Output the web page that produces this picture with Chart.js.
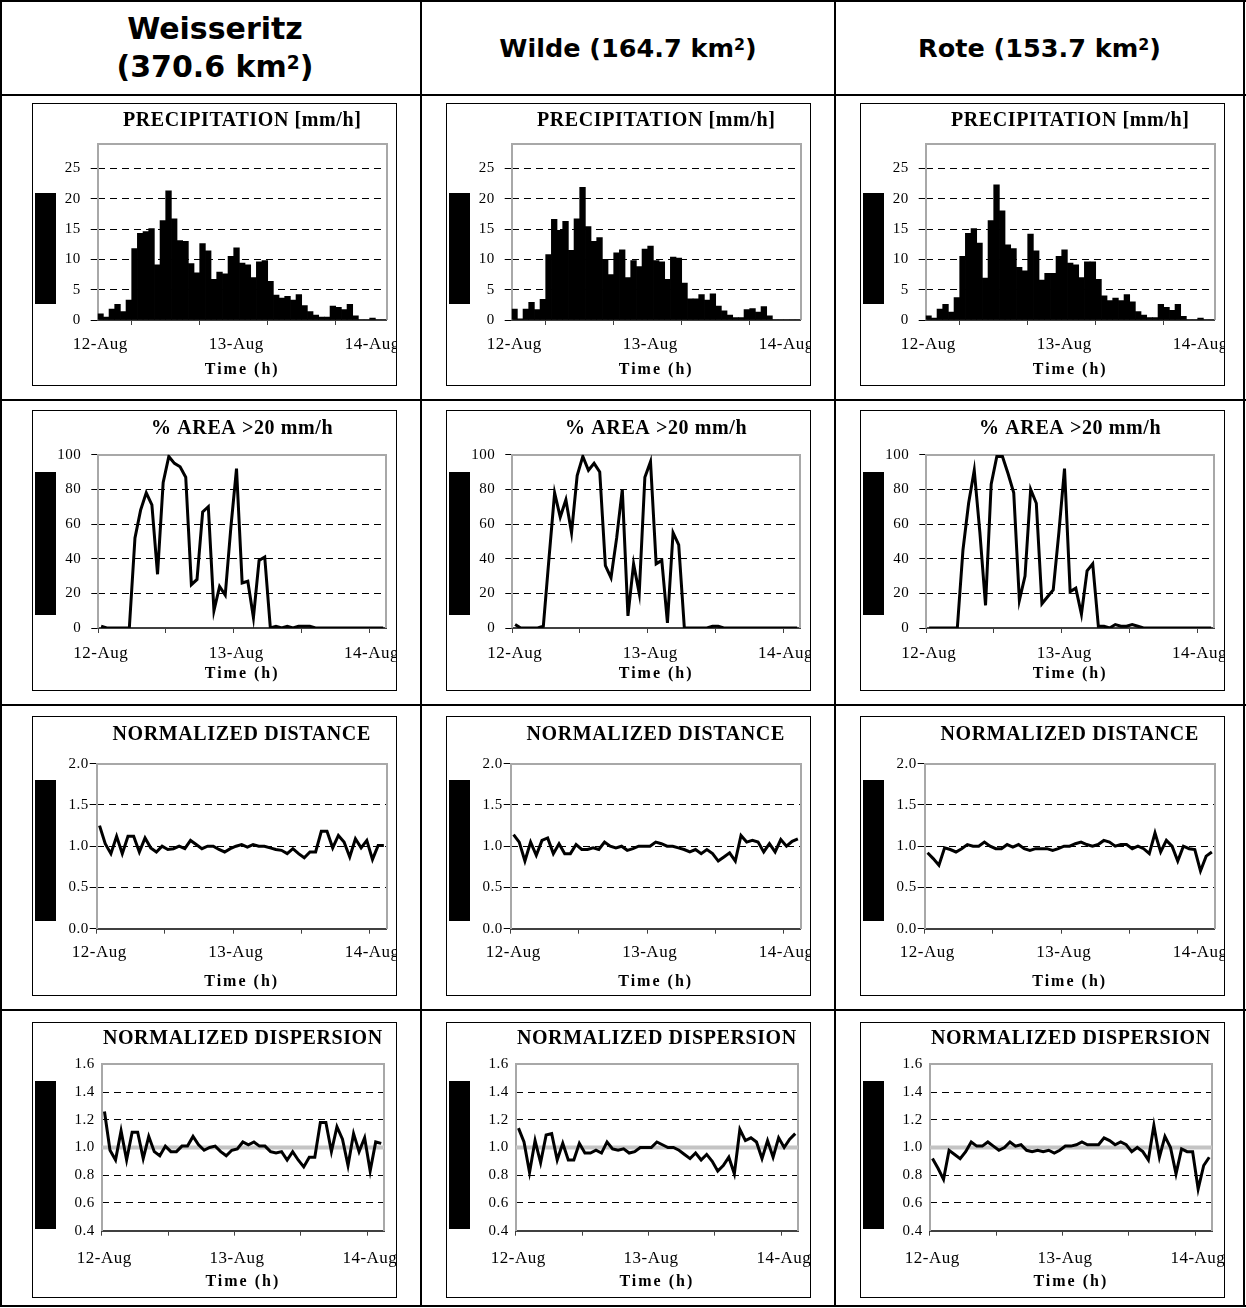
<!DOCTYPE html>
<html><head><meta charset="utf-8">
<script src="https://cdn.jsdelivr.net/npm/chart.js@4.4.1/dist/chart.umd.min.js"></script>
<style>
body{margin:0;background:#fff;}
#page{position:relative;width:1246px;height:1308px;overflow:hidden;background:#fff;}
.ln{position:absolute;background:#000;}
.hdr{position:absolute;top:2px;height:92px;display:flex;align-items:center;justify-content:center;text-align:center;
 font-family:'DejaVu Sans',Verdana,sans-serif;font-weight:bold;font-size:25.5px;line-height:38px;color:#000;}
.hdr.big{font-size:30px;}
.hdr span{display:block;}
.hdr sup{font-size:0.62em;line-height:0;vertical-align:0.45em;}
.box{position:absolute;border:1px solid #000;box-sizing:border-box;background:#fff;}
.box canvas{position:absolute;left:0;top:0;}
.blk{position:absolute;background:#000;}
</style></head>
<body><div id="page"></div>
<script>
// ---------- data ----------
const hours = [0.5,1.5,2.5,3.5,4.5,5.5,6.5,7.5,8.5,9.5,10.5,11.5,12.5,13.5,14.5,15.5,16.5,17.5,18.5,19.5,20.5,21.5,22.5,23.5,24.5,25.5,26.5,27.5,28.5,29.5,30.5,31.5,32.5,33.5,34.5,35.5,36.5,37.5,38.5,39.5,40.5,41.5,42.5,43.5,44.5,45.5,46.5,47.5,48.5,49.5,50.5];
const xTickHours = [0,12,24,36,48];
const dateTickHours = [0,24,48];
const dateLabels = ['12-Aug','13-Aug','14-Aug'];
const basinNames = ['Weisseritz','Wilde','Rote'];
const basinAreas = ['370.6','164.7','153.7'];
const panelTitles = ['PRECIPITATION [mm/h]','% AREA >20 mm/h','NORMALIZED DISTANCE','NORMALIZED DISPERSION'];
const xAxisTitle = 'Time (h)';
const precipTicks = [0,5,10,15,20,25];
const areaTicks = [0,20,40,60,80,100];
const distTicks = [0,0.5,1.0,1.5,2.0];
const dispTicks = [0.4,0.6,0.8,1.0,1.2,1.4,1.6];
const dispReference = 1.0;

const precipWeisseritz = [1.0,0.5,1.8,2.6,1.4,3.3,11.8,14.3,14.6,15.1, 9.1,16.4,21.3,16.7,13.1,13.0,9.3,7.8,12.6,11.4, 6.7,7.9,7.6,10.5,11.9,9.4,9.1,7.0,9.6,9.8, 6.4,4.1,3.6,3.9,3.3,4.2,2.4,1.4,0.8,0.5, 0.5,2.3,2.1,1.7,2.6,0.7,0,0,0.3,0, 0];
const precipWilde = [1.8,0.2,1.8,2.9,1.7,3.4,10.8,16.6,14.8,16.3, 11.5,16.7,21.9,15.4,13.0,13.6,10.0,7.5,11.1,11.6, 7.0,9.8,8.8,11.7,12.2,9.8,9.6,6.7,10.4,10.2, 6.1,3.5,3.5,4.2,3.3,4.3,2.3,1.5,0.8,0.4, 0.4,1.7,1.9,1.3,2.2,0.7,0,0,0,0, 0];
const precipRote = [0.7,0.3,1.8,2.6,1.3,3.7,10.5,14.3,15.1,12.7, 6.9,16.4,22.3,18.0,12.4,11.8,8.7,8.1,14.2,11.4, 6.6,7.7,7.7,10.5,11.6,9.4,9.1,7.0,9.6,9.6, 6.7,4.0,3.2,3.6,3.2,4.2,3.0,1.4,0.8,0.4, 0.4,2.6,2.1,1.6,2.6,0.6,0,0,0.3,0, 0];

const areaWeisseritz = [1,0,0,0,0,0,52,68,78,71, 31,84,99,95,93,87,25,28,67,70, 10,24,19,58,92,26,27,6,39,41, 0,1,0,1,0,1,1,1,0,0, 0,0,0,0,0,0,0,0,0,0, 0];
const areaWilde = [2,0,0,0,0,1,40,78,64,74, 55,88,99,91,95,90,36,29,52,80, 7,37,20,87,96,37,39,3,55,48, 0,0,0,0,0,1,1,0,0,0, 0,0,0,0,0,0,0,0,0,0, 0];
const areaRote = [0,0,0,0,0,0,45,72,91,55, 13,83,99,99,89,78,16,30,80,72, 14,18,22,55,92,21,23,8,33,37, 1,1,0,2,1,1,2,1,0,0, 0,0,0,0,0,0,0,0,0,0, 0];

const distWeisseritz = [1.25,1.03,0.91,1.12,0.91,1.12,1.12,0.93,1.10,0.98, 0.93,1.00,0.96,0.97,1.00,0.97,1.07,1.02,0.97,1.00, 1.00,0.96,0.93,0.97,1.00,1.02,0.99,1.02,1.00,1.00, 0.98,0.96,0.95,0.91,0.97,0.91,0.86,0.93,0.93,1.18, 1.18,0.98,1.13,1.05,0.87,1.09,0.98,1.07,0.84,1.01, 1.01];
const distWilde = [1.14,1.05,0.82,1.05,0.89,1.07,1.10,0.91,1.03,0.91, 0.91,1.02,0.96,0.96,0.98,0.96,1.05,1.00,0.98,1.00, 0.95,0.97,1.00,1.00,1.00,1.05,1.03,1.00,1.00,0.98, 0.96,0.93,0.96,0.91,0.96,0.91,0.82,0.87,0.92,0.82, 1.13,1.05,1.07,1.05,0.93,1.03,0.93,1.08,1.00,1.06, 1.09];
const distRote = [0.92,0.85,0.77,0.98,0.96,0.93,0.97,1.02,1.00,1.00, 1.05,1.00,0.97,0.97,1.02,0.99,1.02,0.97,0.95,0.97, 0.97,0.97,0.95,0.97,1.00,1.00,1.03,1.05,1.02,1.00, 1.02,1.07,1.05,1.00,1.02,1.02,0.97,1.00,0.97,0.91, 1.16,0.93,1.07,1.00,0.82,1.00,0.97,0.96,0.70,0.88, 0.93];

const dispWeisseritz = [1.26,0.98,0.91,1.12,0.91,1.11,1.11,0.92,1.08,0.97, 0.94,1.01,0.97,0.97,1.01,1.01,1.08,1.02,0.98,1.00, 1.01,0.97,0.94,0.98,0.99,1.04,1.02,1.04,1.01,1.01, 0.97,0.96,0.97,0.91,0.97,0.91,0.86,0.93,0.93,1.18, 1.18,0.97,1.15,1.06,0.87,1.10,0.97,1.07,0.83,1.04, 1.03];
const dispWilde = [1.14,1.04,0.82,1.05,0.89,1.09,1.10,0.91,1.03,0.91, 0.91,1.03,0.96,0.96,0.98,0.96,1.04,0.99,0.98,0.99, 0.96,0.97,1.00,1.00,1.00,1.04,1.02,1.00,1.00,0.98, 0.95,0.92,0.96,0.91,0.95,0.90,0.83,0.87,0.93,0.81, 1.13,1.05,1.07,1.04,0.92,1.05,0.93,1.07,1.00,1.06, 1.10];
const dispRote = [0.92,0.85,0.77,0.98,0.95,0.92,0.97,1.04,1.01,1.01, 1.04,1.01,0.98,1.00,1.04,1.01,1.02,0.98,0.97,0.98, 0.97,0.98,0.96,0.98,1.01,1.01,1.02,1.04,1.02,1.02, 1.02,1.07,1.05,1.02,1.04,1.02,0.97,1.00,0.97,0.91, 1.16,0.93,1.08,1.00,0.81,0.99,0.97,0.97,0.70,0.87, 0.93];

// ---------- panels ----------
const panels = [
  {kind:'bar',  title:panelTitles[0], series:[precipWeisseritz,precipWilde,precipRote], min:0,   max:29,  ticks:precipTicks, dec:0, ref:false},
  {kind:'line', title:panelTitles[1], series:[areaWeisseritz,areaWilde,areaRote],       min:0,   max:100, ticks:areaTicks,   dec:0, ref:false},
  {kind:'line', title:panelTitles[2], series:[distWeisseritz,distWilde,distRote],       min:0,   max:2,   ticks:distTicks,   dec:1, ref:false},
  {kind:'line', title:panelTitles[3], series:[dispWeisseritz,dispWilde,dispRote],       min:0.4, max:1.6, ticks:dispTicks,   dec:1, ref:true}
];
const X_MAX = 51;

// ---------- layout (positions / sizes) ----------
const colLeft = [32, 446, 860];
const BOX_W = 365;
const rowLayout = [
  {top:103,  h:283, tPad:[4.5,11.8], yW:64.7, right:9.3,  xH:65,   yTL:7, yPad:10, xPad:9.8,  atPad:5.7, blk:[90,111]},
  {top:410,  h:281, tPad:[6,13.7],   yW:65.3, right:10,   xH:62,   yTL:7, yPad:10, xPad:10.8, atPad:6.4, blk:[62,143]},
  {top:716,  h:280, tPad:[6,16.7],   yW:63.7, right:9.3,  xH:66.3, yTL:7, yPad:1,  xPad:9.1,  atPad:3.7, blk:[64,141]},
  {top:1022, h:276, tPad:[3.5,13.8], yW:68.7, right:12,   xH:66.3, yTL:0, yPad:7,  xPad:12.8, atPad:5.1, blk:[59,148]}
];

const page = document.getElementById('page');
function addLine(l,t,w,h){const d=document.createElement('div');d.className='ln';d.style.cssText=`left:${l}px;top:${t}px;width:${w}px;height:${h}px`;page.appendChild(d);}
// table grid
[0,94,399,704,1009,1305].forEach(y=>addLine(0,y,1246,2));
[0,420,834,1243].forEach(x=>addLine(x,0,2,1307));
// header
const colSpan = [[10,420],[422,834],[836,1243]];
basinNames.forEach((n,i)=>{
  const d=document.createElement('div');d.className= i===0 ? 'hdr big' : 'hdr';
  d.style.left=colSpan[i][0]+'px';d.style.width=(colSpan[i][1]-colSpan[i][0])+'px';
  d.innerHTML = i===0 ? `<span>${n}<br>(${basinAreas[i]} km<sup>2</sup>)</span>` : `<span>${n} (${basinAreas[i]} km<sup>2</sup>)</span>`;
  page.appendChild(d);
});

const plotFrame = {
  id:'plotFrame',
  beforeDraw(chart){
    const ctx = chart.ctx;
    const wrap = (obj, fn, sp) => {
      if (!obj || obj['__w_'+fn]) return;
      const orig = obj[fn];
      obj['__w_'+fn] = true;
      obj[fn] = function(...a){ const prev = ctx.letterSpacing; ctx.letterSpacing = sp; const r = orig.apply(this,a); ctx.letterSpacing = prev || '0px'; return r; };
    };
    wrap(chart.titleBlock,'draw','0.6px');
    wrap(chart.scales.x,'drawLabels','0.5px');
    wrap(chart.scales.x,'drawTitle','2px');
    wrap(chart.scales.y,'drawLabels','0.5px');
  },
  beforeDatasetsDraw(chart){
    const {ctx, chartArea:a} = chart;
    const l=Math.round(a.left), r=Math.round(a.right), t=Math.round(a.top), b=Math.round(a.bottom);
    ctx.save(); ctx.strokeStyle='#a8a8a8'; ctx.lineWidth=2;
    ctx.beginPath(); ctx.moveTo(l,b); ctx.lineTo(l,t); ctx.lineTo(r,t); ctx.lineTo(r,b); ctx.stroke();
    ctx.restore();
  }
};

const SERIF = "'Liberation Serif','Times New Roman',serif";

panels.forEach((p,ri)=>{
  const L = rowLayout[ri];
  for(let ci=0; ci<3; ci++){
    const box=document.createElement('div');box.className='box';
    box.style.cssText=`left:${colLeft[ci]}px;top:${L.top}px;width:${BOX_W}px;height:${L.h}px`;
    const cv=document.createElement('canvas');cv.width=BOX_W-2;cv.height=L.h-2;
    cv.style.width=(BOX_W-2)+'px';cv.style.height=(L.h-2)+'px';
    box.appendChild(cv);page.appendChild(box);
    const blk=document.createElement('div');blk.className='blk';
    blk.style.cssText=`left:${colLeft[ci]+3}px;top:${L.top+L.blk[0]}px;width:21px;height:${L.blk[1]}px`;
    page.appendChild(blk);

    const vals = p.series[ci];
    const pts = hours.map((h,i)=>({x:h,y:vals[i]}));
    const datasets = [];
    if(p.kind==='bar'){
      datasets.push({type:'bar',data:pts,backgroundColor:'#000',borderWidth:0,barPercentage:1,categoryPercentage:1,order:0});
    } else {
      datasets.push({type:'line',data:pts,borderColor:'#000',borderWidth:3,pointRadius:0,fill:false,tension:0,order:0});
    }
    if(p.ref){
      datasets.push({type:'line',data:[{x:0,y:dispReference},{x:X_MAX,y:dispReference}],borderColor:'#c4c4c4',borderWidth:4,pointRadius:0,fill:false,order:1});
    }
    const isHidden = v => Math.abs(v-p.min)<1e-9 || Math.abs(v-p.max)<1e-9 || (p.ref && Math.abs(v-dispReference)<1e-9);
    new Chart(cv,{
      type: p.kind==='bar'?'bar':'line',
      data:{datasets},
      plugins:[plotFrame],
      options:{
        responsive:false, animation:false, devicePixelRatio:1,
        layout:{padding:{left:0,right:L.right,top:0,bottom:0}},
        plugins:{
          legend:{display:false}, tooltip:{enabled:false},
          title:{display:true,text:p.title,fullSize:false,align:'center',color:'#000',
            font:{family:SERIF,size:20,weight:'bold',lineHeight:1.2},padding:{top:L.tPad[0],bottom:L.tPad[1]}}
        },
        scales:{
          x:{type:'linear',min:0,max:X_MAX,offset:false,
            afterBuildTicks:s=>{s.ticks=xTickHours.map(v=>({value:v}));},
            afterFit:s=>{s.height=L.xH;s.paddingLeft=0;s.paddingRight=0;},
            ticks:{autoSkip:false,maxRotation:0,minRotation:0,padding:L.xPad,labelOffset:2.5,color:'#000',
              font:{family:SERIF,size:17,lineHeight:1.2},
              callback:v=>{const k=dateTickHours.indexOf(v);return k>=0?dateLabels[k]:'';}},
            grid:{drawOnChartArea:false,drawTicks:true,tickLength:5,tickColor:'#404040',tickWidth:1},
            border:{display:true,color:'#404040',width:2},
            title:{display:true,text:xAxisTitle,color:'#000',font:{family:SERIF,size:16,weight:'bold',lineHeight:1.2},padding:{top:0,bottom:L.atPad}}
          },
          y:{type:'linear',min:p.min,max:p.max,
            afterBuildTicks:s=>{s.ticks=p.ticks.map(v=>({value:v}));},
            afterFit:s=>{s.width=L.yW;s.paddingTop=0;s.paddingBottom=0;},
            ticks:{padding:L.yPad,color:'#000',font:{family:SERIF,size:15},callback:v=>Number(v).toFixed(p.dec)},
            grid:{color:c=>(c.tick&&isHidden(c.tick.value))?'rgba(0,0,0,0)':'#000',lineWidth:1,
              drawTicks:L.yTL>0,tickLength:L.yTL,tickColor:'#000',tickWidth:1,tickBorderDash:[]},
            border:{display:false,dash:[7,5]}
          }
        }
      }
    });
  }
});
</script>
</body></html>
